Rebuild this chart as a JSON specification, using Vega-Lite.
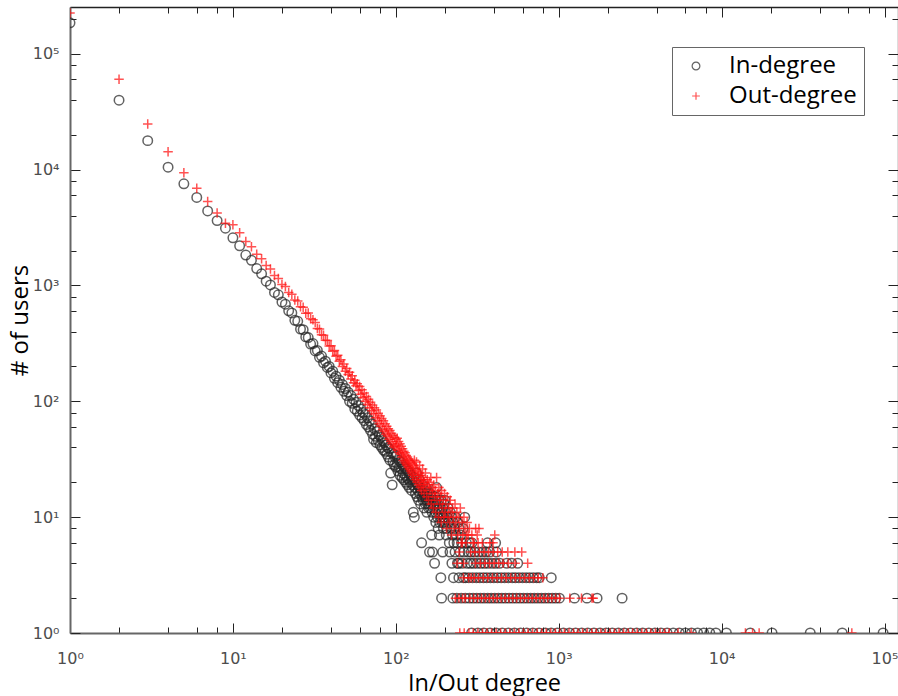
{
  "$schema": "https://vega.github.io/schema/vega-lite/v6.json",
  "width": 828,
  "height": 626,
  "autosize": {"type": "none"},
  "padding": {"left": 70, "top": 7, "right": 0, "bottom": 63},
  "background": "white",
  "config": {"view": {"stroke": null}, "axis": {"grid": false}},
  "datasets": {
    "in": [
      {"d":1,"n":185000},{"d":2,"n":39800},{"d":3,"n":17800},{"d":4,"n":10500},{"d":5,"n":7550},{"d":6,"n":5760},{"d":7,"n":4400},{"d":8,"n":3630},{"d":9,"n":3120},{"d":10,"n":2580},
      {"d":11,"n":2200},{"d":12,"n":1830},{"d":13,"n":1650},{"d":14,"n":1400},{"d":15,"n":1260},{"d":16,"n":1090},{"d":17,"n":1010},{"d":18,"n":870},{"d":19,"n":830},{"d":20,"n":720},
      {"d":21,"n":690},{"d":22,"n":605},{"d":23,"n":580},{"d":24,"n":500},{"d":25,"n":490},{"d":26,"n":420},{"d":27,"n":415},{"d":28,"n":360},{"d":29,"n":355},{"d":30,"n":312},
      {"d":31,"n":315},{"d":32,"n":272},{"d":33,"n":275},{"d":34,"n":240},{"d":35,"n":246},{"d":36,"n":215},{"d":37,"n":222},{"d":38,"n":196},{"d":39,"n":200},{"d":40,"n":176},
      {"d":41,"n":182},{"d":42,"n":158},{"d":43,"n":165},{"d":44,"n":145},{"d":45,"n":152},{"d":46,"n":132},{"d":47,"n":140},{"d":48,"n":122},{"d":49,"n":129},{"d":50,"n":112},
      {"d":51,"n":120},{"d":52,"n":100},{"d":53,"n":112},{"d":54,"n":96},{"d":55,"n":104},{"d":56,"n":86},{"d":57,"n":98},{"d":58,"n":82},{"d":59,"n":92},{"d":60,"n":76},
      {"d":61,"n":86},{"d":62,"n":72},{"d":63,"n":80},{"d":64,"n":68},{"d":65,"n":77},{"d":66,"n":63},{"d":67,"n":72},{"d":68,"n":60},{"d":69,"n":68},{"d":70,"n":56},
      {"d":71,"n":64},{"d":72,"n":52},{"d":73,"n":47},{"d":74,"n":58},{"d":75,"n":50},{"d":76,"n":44},{"d":77,"n":55},{"d":78,"n":46},{"d":79,"n":51},{"d":80,"n":42},
      {"d":81,"n":49},{"d":82,"n":40},{"d":83,"n":46},{"d":84,"n":38},{"d":85,"n":44},{"d":86,"n":37},{"d":87,"n":42},{"d":88,"n":35},{"d":89,"n":40},{"d":90,"n":33},
      {"d":91,"n":39},{"d":92,"n":31},{"d":93,"n":24},{"d":94,"n":36},{"d":95,"n":19},{"d":96,"n":30},{"d":97,"n":35},{"d":98,"n":28},{"d":99,"n":33},{"d":100,"n":27},
      {"d":101,"n":34},{"d":102,"n":29},{"d":103,"n":25},{"d":104,"n":31},{"d":105,"n":27},{"d":106,"n":23},{"d":107,"n":30},{"d":108,"n":26},{"d":109,"n":22},{"d":110,"n":28},
      {"d":111,"n":24},{"d":112,"n":21},{"d":113,"n":27},{"d":114,"n":23},{"d":115,"n":20},{"d":116,"n":26},{"d":117,"n":22},{"d":118,"n":19},{"d":119,"n":25},{"d":120,"n":21},
      {"d":121,"n":18},{"d":122,"n":24},{"d":123,"n":20},{"d":124,"n":23},{"d":125,"n":17},{"d":126,"n":21},{"d":127,"n":19},{"d":128,"n":11},{"d":129,"n":22},{"d":130,"n":10},
      {"d":131,"n":18},{"d":132,"n":16},{"d":133,"n":20},{"d":134,"n":24},{"d":135,"n":15},{"d":136,"n":19},{"d":137,"n":17},{"d":138,"n":14},{"d":139,"n":21},{"d":140,"n":16},
      {"d":141,"n":18},{"d":142,"n":13},{"d":143,"n":17},{"d":144,"n":6},{"d":145,"n":15},{"d":146,"n":19},{"d":147,"n":14},{"d":148,"n":16},{"d":149,"n":12},{"d":150,"n":17},
      {"d":151,"n":15},{"d":152,"n":13},{"d":153,"n":18},{"d":154,"n":14},{"d":155,"n":11},{"d":156,"n":16},{"d":157,"n":13},{"d":158,"n":15},{"d":159,"n":12},{"d":160,"n":14},
      {"d":161,"n":5},{"d":162,"n":16},{"d":163,"n":12},{"d":164,"n":13},{"d":165,"n":15},{"d":166,"n":7},{"d":167,"n":11},{"d":168,"n":5},{"d":169,"n":14},{"d":170,"n":12},
      {"d":171,"n":10},{"d":172,"n":13},{"d":173,"n":4},{"d":174,"n":15},{"d":175,"n":11},{"d":176,"n":9},{"d":177,"n":14},{"d":178,"n":18},{"d":179,"n":12},{"d":180,"n":10},
      {"d":181,"n":13},{"d":182,"n":8},{"d":183,"n":11},{"d":184,"n":14},{"d":185,"n":7},{"d":186,"n":9},{"d":187,"n":12},{"d":188,"n":10},{"d":189,"n":3},{"d":190,"n":14},
      {"d":191,"n":2},{"d":192,"n":11},{"d":193,"n":9},{"d":194,"n":5},{"d":195,"n":12},{"d":196,"n":8},{"d":197,"n":10},{"d":198,"n":13},{"d":199,"n":9},{"d":200,"n":14},
      {"d":202,"n":11},{"d":204,"n":7},{"d":205,"n":8},{"d":207,"n":10},{"d":209,"n":12},{"d":211,"n":9},{"d":213,"n":6},{"d":215,"n":5},{"d":216,"n":11},{"d":218,"n":8},
      {"d":220,"n":10},{"d":221,"n":4},{"d":223,"n":7},{"d":225,"n":9},{"d":227,"n":6},{"d":229,"n":8},{"d":231,"n":5},{"d":233,"n":10},{"d":235,"n":7},{"d":238,"n":6},
      {"d":240,"n":9},{"d":243,"n":4},{"d":245,"n":8},{"d":248,"n":5},{"d":250,"n":7},{"d":253,"n":6},{"d":256,"n":4},{"d":259,"n":8},{"d":262,"n":5},{"d":265,"n":10},
      {"d":268,"n":3},{"d":271,"n":6},{"d":274,"n":4},{"d":278,"n":5},
      {"d":284,"n":6},{"d":293,"n":6},{"d":366,"n":6},{"d":410,"n":6},
      {"d":290,"n":5},{"d":305,"n":5},{"d":322,"n":5},{"d":340,"n":5},{"d":358,"n":5},{"d":377,"n":5},{"d":415,"n":5},
      {"d":239,"n":4},{"d":287,"n":4},{"d":300,"n":4},{"d":316,"n":4},{"d":333,"n":4},{"d":350,"n":4},{"d":368,"n":4},{"d":390,"n":4},{"d":411,"n":4},{"d":434,"n":4},{"d":480,"n":4},{"d":515,"n":4},{"d":560,"n":4},
      {"d":226,"n":3},{"d":244,"n":3},{"d":260,"n":3},{"d":281,"n":3},{"d":296,"n":3},{"d":312,"n":3},{"d":328,"n":3},{"d":345,"n":3},{"d":362,"n":3},{"d":381,"n":3},{"d":400,"n":3},{"d":421,"n":3},{"d":443,"n":3},{"d":466,"n":3},{"d":490,"n":3},{"d":518,"n":3},{"d":542,"n":3},{"d":570,"n":3},{"d":600,"n":3},{"d":631,"n":3},{"d":663,"n":3},{"d":697,"n":3},{"d":733,"n":3},{"d":760,"n":3},{"d":900,"n":3},
      {"d":224,"n":2},{"d":237,"n":2},{"d":252,"n":2},{"d":267,"n":2},{"d":283,"n":2},{"d":298,"n":2},{"d":314,"n":2},{"d":331,"n":2},{"d":348,"n":2},{"d":367,"n":2},{"d":385,"n":2},{"d":405,"n":2},{"d":426,"n":2},{"d":448,"n":2},{"d":471,"n":2},{"d":496,"n":2},{"d":522,"n":2},{"d":549,"n":2},{"d":578,"n":2},{"d":608,"n":2},{"d":640,"n":2},{"d":673,"n":2},{"d":708,"n":2},{"d":745,"n":2},{"d":784,"n":2},{"d":825,"n":2},{"d":868,"n":2},{"d":913,"n":2},{"d":960,"n":2},{"d":1010,"n":2},{"d":1250,"n":2},{"d":1490,"n":2},{"d":1720,"n":2},{"d":2450,"n":2},
      {"d":292,"n":1},{"d":319,"n":1},{"d":347,"n":1},{"d":379,"n":1},{"d":413,"n":1},{"d":450,"n":1},{"d":491,"n":1},{"d":535,"n":1},{"d":583,"n":1},{"d":636,"n":1},{"d":694,"n":1},{"d":757,"n":1},{"d":828,"n":1},{"d":899,"n":1},{"d":980,"n":1},{"d":1068,"n":1},{"d":1165,"n":1},{"d":1270,"n":1},{"d":1384,"n":1},{"d":1509,"n":1},{"d":1645,"n":1},{"d":1793,"n":1},{"d":1955,"n":1},{"d":2131,"n":1},{"d":2323,"n":1},{"d":2532,"n":1},{"d":2760,"n":1},{"d":3008,"n":1},{"d":3279,"n":1},{"d":3574,"n":1},{"d":3896,"n":1},{"d":4246,"n":1},{"d":4629,"n":1},{"d":5045,"n":1},{"d":5500,"n":1},{"d":5995,"n":1},{"d":6534,"n":1},{"d":7122,"n":1},{"d":7763,"n":1},{"d":8462,"n":1},{"d":9224,"n":1},{"d":10700,"n":1},{"d":15000,"n":1},{"d":20400,"n":1},{"d":35000,"n":1},{"d":55000,"n":1},{"d":98000,"n":1}
    ],
    "out": [
      {"d":1,"n":225000},{"d":2,"n":60300},{"d":3,"n":24800},{"d":4,"n":14300},{"d":5,"n":9420},{"d":6,"n":6900},{"d":7,"n":5300},{"d":8,"n":4230},{"d":9,"n":3450},{"d":10,"n":3350},
      {"d":11,"n":2850},{"d":12,"n":2400},{"d":13,"n":2160},{"d":14,"n":1860},{"d":15,"n":1700},{"d":16,"n":1490},{"d":17,"n":1390},{"d":18,"n":1220},{"d":19,"n":1150},{"d":20,"n":1020},
      {"d":21,"n":980},{"d":22,"n":870},{"d":23,"n":840},{"d":24,"n":750},{"d":25,"n":735},{"d":26,"n":655},{"d":27,"n":648},{"d":28,"n":575},{"d":29,"n":578},{"d":30,"n":515},
      {"d":31,"n":505},{"d":32,"n":480},{"d":33,"n":425},{"d":34,"n":420},{"d":35,"n":375},{"d":36,"n":372},{"d":37,"n":336},{"d":38,"n":335},{"d":39,"n":300},{"d":40,"n":302},
      {"d":41,"n":270},{"d":42,"n":275},{"d":43,"n":245},{"d":44,"n":250},{"d":45,"n":222},{"d":46,"n":228},{"d":47,"n":200},{"d":48,"n":210},{"d":49,"n":182},{"d":50,"n":192},
      {"d":51,"n":170},{"d":52,"n":178},{"d":53,"n":156},{"d":54,"n":166},{"d":55,"n":145},{"d":56,"n":152},{"d":57,"n":136},{"d":58,"n":142},{"d":59,"n":124},{"d":60,"n":134},
      {"d":61,"n":115},{"d":62,"n":126},{"d":63,"n":108},{"d":64,"n":118},{"d":65,"n":100},{"d":66,"n":110},{"d":67,"n":94},{"d":68,"n":104},{"d":69,"n":88},{"d":70,"n":98},
      {"d":71,"n":83},{"d":72,"n":93},{"d":73,"n":78},{"d":74,"n":88},{"d":75,"n":72},{"d":76,"n":84},{"d":77,"n":68},{"d":78,"n":79},{"d":79,"n":64},{"d":80,"n":75},
      {"d":81,"n":61},{"d":82,"n":71},{"d":83,"n":57},{"d":84,"n":68},{"d":85,"n":55},{"d":86,"n":64},{"d":87,"n":52},{"d":88,"n":61},{"d":89,"n":50},{"d":90,"n":58},
      {"d":91,"n":47},{"d":92,"n":56},{"d":93,"n":45},{"d":94,"n":53},{"d":95,"n":43},{"d":96,"n":51},{"d":97,"n":41},{"d":98,"n":49},{"d":99,"n":40},{"d":100,"n":47},
      {"d":101,"n":42},{"d":102,"n":48},{"d":103,"n":38},{"d":104,"n":45},{"d":105,"n":36},{"d":106,"n":43},{"d":107,"n":35},{"d":108,"n":41},{"d":109,"n":33},{"d":110,"n":39},
      {"d":111,"n":31},{"d":112,"n":37},{"d":113,"n":30},{"d":114,"n":36},{"d":115,"n":29},{"d":116,"n":34},{"d":117,"n":28},{"d":118,"n":33},{"d":119,"n":27},{"d":120,"n":32},
      {"d":121,"n":26},{"d":122,"n":31},{"d":123,"n":25},{"d":124,"n":30},{"d":125,"n":24},{"d":126,"n":29},{"d":127,"n":23},{"d":128,"n":28},{"d":129,"n":22},{"d":130,"n":31},
      {"d":131,"n":27},{"d":132,"n":21},{"d":133,"n":26},{"d":134,"n":30},{"d":135,"n":20},{"d":136,"n":25},{"d":137,"n":23},{"d":138,"n":19},{"d":139,"n":24},{"d":140,"n":28},
      {"d":141,"n":18},{"d":142,"n":23},{"d":143,"n":21},{"d":144,"n":17},{"d":145,"n":22},{"d":146,"n":26},{"d":147,"n":19},{"d":148,"n":21},{"d":149,"n":16},{"d":150,"n":20},
      {"d":152,"n":24},{"d":153,"n":18},{"d":155,"n":15},{"d":156,"n":21},{"d":158,"n":19},{"d":159,"n":14},{"d":161,"n":20},{"d":162,"n":17},{"d":164,"n":22},{"d":165,"n":13},
      {"d":167,"n":18},{"d":168,"n":16},{"d":170,"n":12},{"d":171,"n":19},{"d":173,"n":15},{"d":175,"n":17},{"d":176,"n":11},{"d":178,"n":22},{"d":179,"n":14},{"d":181,"n":16},
      {"d":183,"n":10},{"d":184,"n":18},{"d":186,"n":13},{"d":188,"n":15},{"d":190,"n":9},{"d":191,"n":17},{"d":193,"n":12},{"d":195,"n":14},{"d":197,"n":10},{"d":199,"n":16},
      {"d":201,"n":11},{"d":203,"n":13},{"d":205,"n":8},{"d":207,"n":15},{"d":209,"n":10},{"d":211,"n":12},{"d":214,"n":9},{"d":216,"n":14},{"d":218,"n":11},{"d":220,"n":7},
      {"d":223,"n":12},{"d":225,"n":10},{"d":228,"n":8},{"d":231,"n":13},{"d":234,"n":9},{"d":237,"n":11},{"d":240,"n":7},{"d":243,"n":10},{"d":246,"n":8},{"d":249,"n":12},
      {"d":252,"n":6},{"d":255,"n":9},{"d":258,"n":7},{"d":262,"n":10},{"d":266,"n":8},{"d":270,"n":6},{"d":274,"n":9},{"d":278,"n":7},{"d":283,"n":8},{"d":288,"n":5},
      {"d":293,"n":7},{"d":298,"n":6},
      {"d":309,"n":8},{"d":324,"n":8},
      {"d":272,"n":7},{"d":316,"n":7},{"d":405,"n":7},
      {"d":256,"n":6},{"d":302,"n":6},{"d":320,"n":6},{"d":340,"n":6},{"d":378,"n":6},{"d":395,"n":6},
      {"d":245,"n":5},{"d":305,"n":5},{"d":326,"n":5},{"d":348,"n":5},{"d":371,"n":5},{"d":396,"n":5},{"d":422,"n":5},{"d":450,"n":5},{"d":487,"n":5},{"d":538,"n":5},{"d":593,"n":5},
      {"d":238,"n":4},{"d":261,"n":4},{"d":308,"n":4},{"d":330,"n":4},{"d":352,"n":4},{"d":376,"n":4},{"d":401,"n":4},{"d":428,"n":4},{"d":456,"n":4},{"d":491,"n":4},{"d":540,"n":4},{"d":645,"n":4},
      {"d":260,"n":3},{"d":280,"n":3},{"d":290,"n":3},{"d":303,"n":3},{"d":322,"n":3},{"d":344,"n":3},{"d":367,"n":3},{"d":392,"n":3},{"d":418,"n":3},{"d":446,"n":3},{"d":476,"n":3},{"d":508,"n":3},{"d":542,"n":3},{"d":578,"n":3},{"d":617,"n":3},{"d":658,"n":3},{"d":702,"n":3},{"d":749,"n":3},{"d":799,"n":3},
      {"d":232,"n":2},{"d":244,"n":2},{"d":257,"n":2},{"d":267,"n":2},{"d":285,"n":2},{"d":301,"n":2},{"d":318,"n":2},{"d":336,"n":2},{"d":355,"n":2},{"d":375,"n":2},{"d":397,"n":2},{"d":419,"n":2},{"d":443,"n":2},{"d":468,"n":2},{"d":494,"n":2},{"d":522,"n":2},{"d":552,"n":2},{"d":583,"n":2},{"d":616,"n":2},{"d":651,"n":2},{"d":688,"n":2},{"d":727,"n":2},{"d":768,"n":2},{"d":811,"n":2},{"d":857,"n":2},{"d":906,"n":2},{"d":957,"n":2},{"d":1011,"n":2},{"d":1170,"n":2},{"d":1380,"n":2},{"d":1600,"n":2},{"d":1630,"n":2},
      {"d":247,"n":1},{"d":263,"n":1},{"d":281,"n":1},{"d":299,"n":1},{"d":319,"n":1},{"d":341,"n":1},{"d":363,"n":1},{"d":387,"n":1},{"d":413,"n":1},{"d":440,"n":1},{"d":470,"n":1},{"d":501,"n":1},{"d":534,"n":1},{"d":570,"n":1},{"d":608,"n":1},{"d":648,"n":1},{"d":691,"n":1},{"d":737,"n":1},{"d":786,"n":1},{"d":838,"n":1},{"d":894,"n":1},{"d":953,"n":1},{"d":1016,"n":1},{"d":1084,"n":1},{"d":1156,"n":1},{"d":1233,"n":1},{"d":1315,"n":1},{"d":1402,"n":1},{"d":1495,"n":1},{"d":1595,"n":1},{"d":1701,"n":1},{"d":1814,"n":1},{"d":1934,"n":1},{"d":2063,"n":1},{"d":2200,"n":1},{"d":2346,"n":1},{"d":2502,"n":1},{"d":2668,"n":1},{"d":2846,"n":1},{"d":3035,"n":1},{"d":3237,"n":1},{"d":3452,"n":1},{"d":3681,"n":1},{"d":3926,"n":1},{"d":4187,"n":1},{"d":4465,"n":1},{"d":4762,"n":1},{"d":5400,"n":1},{"d":6500,"n":1},{"d":14000,"n":1},{"d":15500,"n":1},{"d":17000,"n":1},{"d":63000,"n":1}
    ],
    "frame": [{"d": 1, "n": 1}]
  },
  "layer": [
    {
      "data": {"name": "frame"},
      "mark": {"type": "point", "opacity": 0},
      "encoding": {
        "x": {"field": "d", "type": "quantitative", "scale": {"type": "log", "domain": [1, 121000], "nice": false},
          "axis": {"orient": "top", "values": [1, 10, 100, 1000, 10000, 100000], "tickSize": -10, "tickColor": "#222", "tickWidth": 1, "labels": false, "domainColor": "#222", "domainWidth": 1.3, "title": null}},
        "y": {"field": "n", "type": "quantitative", "scale": {"type": "log", "domain": [1, 253500], "nice": false},
          "axis": {"orient": "right", "values": [1, 10, 100, 1000, 10000, 100000], "tickSize": -10, "tickColor": "#222", "tickWidth": 1, "labels": false, "domainColor": "#222", "domainWidth": 1.3, "title": null}}
      }
    },
    {
      "data": {"name": "frame"},
      "mark": {"type": "point", "opacity": 0},
      "encoding": {
        "x": {"field": "d", "type": "quantitative",
          "axis": {"orient": "top", "values": [2,4,6,8,20,40,60,80,200,400,600,800,2000,4000,6000,8000,20000,40000,60000,80000], "tickSize": -6, "tickColor": "#222", "tickWidth": 1, "labels": false, "domain": false, "title": null}},
        "y": {"field": "n", "type": "quantitative",
          "axis": {"orient": "right", "values": [2,4,6,8,20,40,60,80,200,400,600,800,2000,4000,6000,8000,20000,40000,60000,80000,200000], "tickSize": -6, "tickColor": "#222", "tickWidth": 1, "labels": false, "domain": false, "title": null}}
      }
    },
    {
      "data": {"name": "frame"},
      "mark": {"type": "point", "opacity": 0},
      "encoding": {
        "x": {"field": "d", "type": "quantitative",
          "axis": {"orient": "bottom", "values": [2,4,6,8,20,40,60,80,200,400,600,800,2000,4000,6000,8000,20000,40000,60000,80000], "tickSize": -6, "tickColor": "#222", "tickWidth": 1, "labels": false, "domain": false, "title": null}},
        "y": {"field": "n", "type": "quantitative",
          "axis": {"orient": "left", "values": [2,4,6,8,20,40,60,80,200,400,600,800,2000,4000,6000,8000,20000,40000,60000,80000,200000], "tickSize": -6, "tickColor": "#222", "tickWidth": 1, "labels": false, "domain": false, "title": null}}
      }
    },
    {
      "data": {"name": "in"},
      "mark": {"type": "point", "filled": false, "size": 90, "strokeWidth": 1.5, "opacity": 0.72, "clip": true},
      "encoding": {
        "x": {"field": "d", "type": "quantitative",
          "axis": {"orient": "bottom", "values": [1, 10, 100, 1000, 10000, 100000], "tickSize": -10, "tickColor": "#222", "tickWidth": 1,
            "labelExpr": "'10' + ['⁰','¹','²','³','⁴','⁵'][round(log(datum.value)/LN10)]",
            "labelFont": "DejaVu Sans", "labelFontSize": 16, "labelColor": "#4d4d4d", "labelPadding": 27, "labelFlush": false, "labelOverlap": false, "labelBound": false,
            "domainColor": "#666", "domainWidth": 2,
            "title": "In/Out degree", "titleFont": "Open Sans", "titleFontSize": 23.5, "titleFontWeight": "normal", "titleColor": "#000", "titlePadding": 5}},
        "y": {"field": "n", "type": "quantitative",
          "axis": {"orient": "left", "values": [1, 10, 100, 1000, 10000, 100000], "tickSize": -10, "tickColor": "#222", "tickWidth": 1,
            "labelExpr": "'10' + ['⁰','¹','²','³','⁴','⁵'][round(log(datum.value)/LN10)]",
            "labelFont": "DejaVu Sans", "labelFontSize": 16, "labelColor": "#4d4d4d", "labelPadding": 21, "labelFlush": false, "labelOverlap": false, "labelBound": false,
            "domainColor": "#666", "domainWidth": 2,
            "title": "# of users", "titleFont": "Open Sans", "titleFontSize": 24, "titleFontWeight": "normal", "titleColor": "#000", "titlePadding": 0}},
        "shape": {"datum": "In-degree", "type": "nominal",
          "scale": {"domain": ["In-degree", "Out-degree"], "range": ["circle", "M-1,0H1M0,-1V1"]},
          "legend": {"title": null, "orient": "none", "legendX": 602, "legendY": 40, "padding": 7, "strokeColor": "#666", "fillColor": "white", "labelFont": "Open Sans", "labelFontSize": 24, "labelColor": "#000", "symbolSize": 60, "symbolStrokeWidth": 1.2, "symbolOffset": 5, "labelOffset": 21, "rowPadding": 6}},
        "color": {"datum": "In-degree", "type": "nominal",
          "scale": {"domain": ["In-degree", "Out-degree"], "range": ["#262626", "#ff1010"]},
          "legend": {"title": null, "orient": "none", "legendX": 602, "legendY": 40, "padding": 7, "strokeColor": "#666", "fillColor": "white", "labelFont": "Open Sans", "labelFontSize": 24, "labelColor": "#000", "symbolSize": 60, "symbolStrokeWidth": 1.2, "symbolOffset": 5, "labelOffset": 21, "rowPadding": 6}}
      }
    },
    {
      "data": {"name": "out"},
      "mark": {"type": "point", "filled": false, "size": 90, "strokeWidth": 1.5, "opacity": 0.72, "clip": true},
      "encoding": {
        "x": {"field": "d", "type": "quantitative", "axis": null},
        "y": {"field": "n", "type": "quantitative", "axis": null},
        "shape": {"datum": "Out-degree", "type": "nominal"},
        "color": {"datum": "Out-degree", "type": "nominal"}
      }
    }
  ],
  "resolve": {"axis": {"x": "independent", "y": "independent"}}
}
